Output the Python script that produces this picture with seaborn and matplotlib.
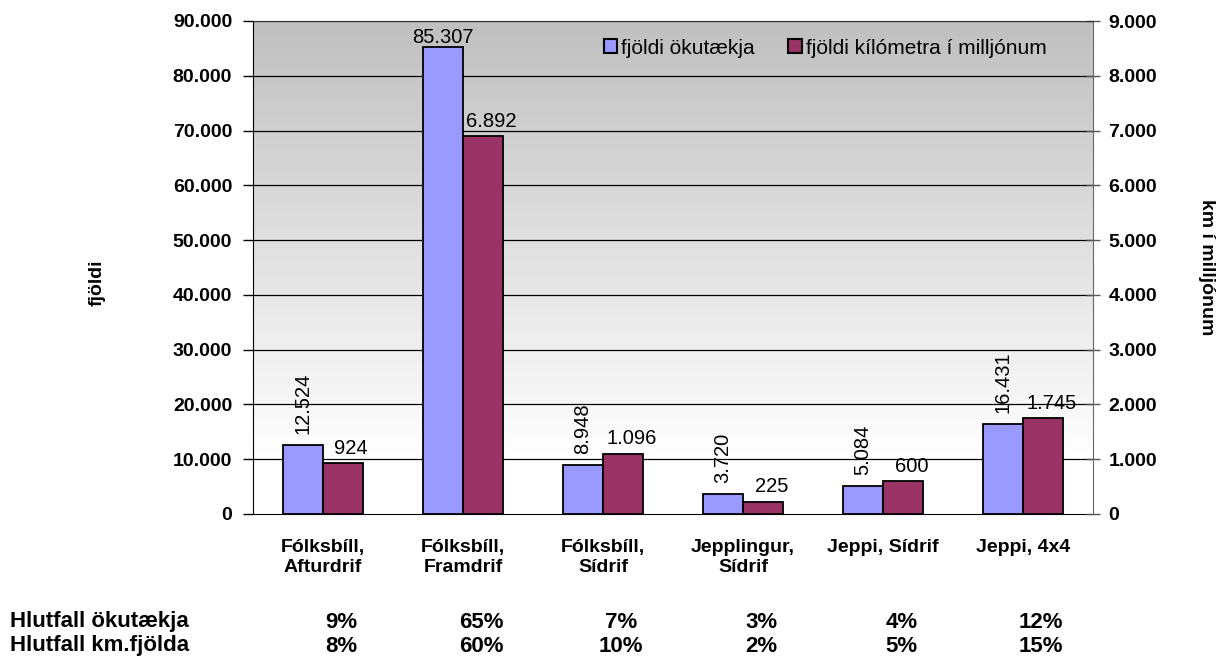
import numpy as np
import pandas as pd
import matplotlib
matplotlib.use('Agg')
import matplotlib.pyplot as plt
import matplotlib.transforms as mtransforms
from matplotlib.patches import Patch
import seaborn as sns

# data
categories = ['Fólksbíll,\nAfturdrif', 'Fólksbíll,\nFramdrif', 'Fólksbíll,\nSídrif',
              'Jepplingur,\nSídrif', 'Jeppi, Sídrif', 'Jeppi, 4x4']
vehicles = [12524, 85307, 8948, 3720, 5084, 16431]
km_millions = [924, 6892, 1096, 225, 600, 1745]
share_vehicles = ['9%', '65%', '7%', '3%', '4%', '12%']
share_km = ['8%', '60%', '10%', '2%', '5%', '15%']
series = ['fjöldi ökutækja', 'fjöldi kílómetra í milljónum']
colors = ['#9999FF', '#993366']

sns.set_style('white')
plt.rcParams['font.family'] = ['Liberation Sans', 'DejaVu Sans']
plt.rcParams['text.color'] = 'black'
plt.rcParams['axes.labelcolor'] = 'black'
plt.rcParams['xtick.color'] = 'black'
plt.rcParams['ytick.color'] = 'black'


def fmt(v):
    return f'{v:,.0f}'.replace(',', '.')


n = len(categories)
df_left = pd.DataFrame({'cat': categories * 2,
                        'series': [series[0]] * n + [series[1]] * n,
                        'value': vehicles + [np.nan] * n})
df_right = pd.DataFrame({'cat': categories * 2,
                         'series': [series[0]] * n + [series[1]] * n,
                         'value': [np.nan] * n + km_millions})

fig = plt.figure(figsize=(12.19, 6.62), dpi=100)
ax = fig.add_axes([253 / 1219, 1 - 514 / 662, 840 / 1219, 493 / 662])

# grey-to-white gradient background
grad = np.concatenate([np.linspace(0.75, 1.0, 90), np.ones(10)])[:, None]
ax.imshow(grad, cmap='gray', vmin=0, vmax=1, aspect='auto',
          extent=[-0.5, 5.5, 0, 90000], origin='upper', zorder=0)

sns.barplot(data=df_left, x='cat', y='value', hue='series', hue_order=series,
            palette=colors, saturation=1, width=0.57, edgecolor='black',
            linewidth=1.3, legend=False, ax=ax, zorder=3)
ax.set_xlim(-0.5, 5.5)
ax.set_ylim(0, 90000)
ax.set_yticks(np.arange(0, 90001, 10000))
ax.set_yticklabels([fmt(v) for v in np.arange(0, 90001, 10000)],
                   fontsize=14, fontweight='bold')
for y in np.arange(10000, 90001, 10000):
    ax.axhline(y, color='black', lw=0.9, zorder=1)

ax2 = ax.twinx()
sns.barplot(data=df_right, x='cat', y='value', hue='series', hue_order=series,
            palette=colors, saturation=1, width=0.57, edgecolor='black',
            linewidth=1.3, legend=False, ax=ax2, zorder=3)
ax2.set_xlim(-0.5, 5.5)
ax2.set_ylim(0, 9000)
ax2.set_yticks(np.arange(0, 9001, 1000))
ax2.set_yticklabels([fmt(v) for v in np.arange(0, 9001, 1000)],
                    fontsize=14, fontweight='bold')

# value labels
blue_labels = ax.bar_label(ax.containers[0], labels=[fmt(v) for v in vehicles],
                           fontsize=14.5, padding=8)
for t, v in zip(blue_labels, vehicles):
    if v < 50000:
        t.set_rotation(90)
        t.set_va('bottom')
    else:
        t.xyann = (0, 0)
red_labels = ax2.bar_label(ax2.containers[-1], labels=[fmt(v) for v in km_millions],
                           fontsize=14.5, padding=4)
for t in red_labels:
    t.xyann = (6, t.xyann[1])

# axes styling
ax.set_xticks(range(n))
ax.set_xticklabels(categories, fontsize=14, fontweight='bold', va='top',
                   linespacing=1.2)
ax.tick_params(axis='x', which='major', length=0, pad=18)
ax.set_xticks(np.arange(-0.5, n, 1), minor=True)
ax.tick_params(axis='x', which='minor', length=7, color='black', width=1)
ax.tick_params(axis='y', length=7, width=1, color='black', pad=8, left=True)
ax2.tick_params(axis='y', direction='inout', length=10, width=1, color='#555555',
                pad=6, right=True)
ax2.set_xlabel('')
ax.set_xlabel('')
ax.set_ylabel('fjöldi', fontsize=14, fontweight='bold')
ax.yaxis.set_label_coords(-0.176, 0.47)
ax2.set_ylabel('km í milljónum', fontsize=14, fontweight='bold', rotation=-90, va='center')
ax2.yaxis.set_label_coords(1.135, 0.5)

for a in (ax, ax2):
    for s in a.spines.values():
        s.set_visible(False)
ax.spines['left'].set_visible(True)
ax.spines['left'].set_color('black')
ax.spines['bottom'].set_visible(True)
ax.spines['bottom'].set_color('black')
ax2.spines['right'].set_visible(True)
ax2.spines['right'].set_color('#666666')
ax2.spines['top'].set_visible(True)
ax2.spines['top'].set_color('#333333')

handles = [Patch(facecolor=c, edgecolor='black', linewidth=1.5) for c in colors]
ax2.legend(handles, series, loc='center right', bbox_to_anchor=(0.955, 0.945),
           ncol=2, frameon=False, fontsize=15, handlelength=0.65, handleheight=0.65,
           handletextpad=0.2, columnspacing=1.6, borderaxespad=0)

# share table under the chart
trans = mtransforms.blended_transform_factory(ax.transData, fig.transFigure)
fig.text(10 / 1219, 1 - 622 / 662, 'Hlutfall ökutækja', fontsize=16,
         fontweight='bold', va='center', ha='left')
fig.text(10 / 1219, 1 - 646 / 662, 'Hlutfall km.fjölda', fontsize=16,
         fontweight='bold', va='center', ha='left')
for i in range(n):
    ax.text(i + 0.13, 1 - 622 / 662, share_vehicles[i], transform=trans, fontsize=16,
            fontweight='bold', ha='center', va='center')
    ax.text(i + 0.13, 1 - 646 / 662, share_km[i], transform=trans, fontsize=16,
            fontweight='bold', ha='center', va='center')

fig.savefig('out.png', dpi=100)
